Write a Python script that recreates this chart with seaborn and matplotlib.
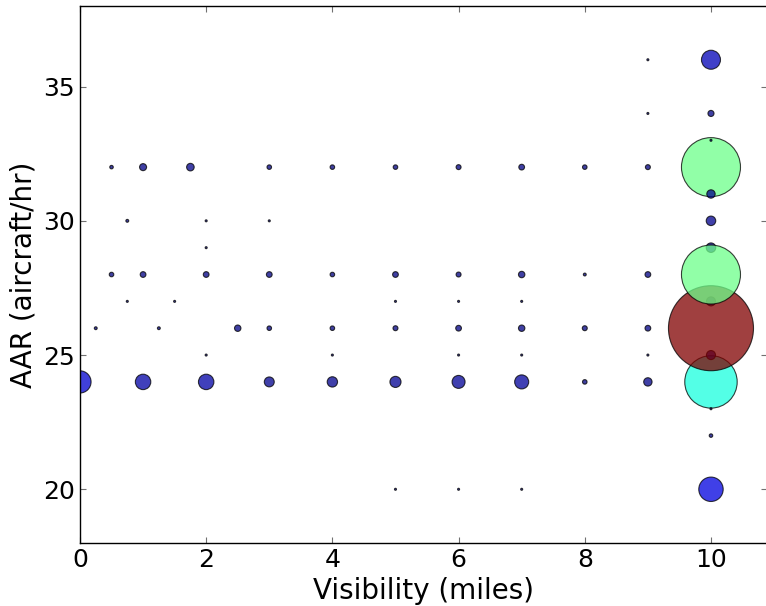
import numpy as np
import pandas as pd
import matplotlib
matplotlib.use("Agg")
import matplotlib.pyplot as plt
import seaborn as sns

# visibility (miles), AAR (aircraft/hr), number of hours observed
visibility = [0, 1, 2, 3, 4, 5, 6, 7, 8, 9,
              0.5, 1, 1.75, 3, 4, 5, 6, 7, 8, 9,
              0.75, 2, 3, 2,
              0.5, 1, 2, 3, 4, 5, 6, 7, 8, 9,
              0.75, 1.5, 5, 6, 7,
              0.25, 1.25, 2.5, 3, 4, 5, 6, 7, 8, 9,
              2, 4, 6, 7, 9,
              5, 6, 7,
              9, 9,
              10, 10, 10, 10, 10, 10, 10, 10, 10, 10, 10, 10, 10, 10, 10]
aar = [24, 24, 24, 24, 24, 24, 24, 24, 24, 24,
       32, 32, 32, 32, 32, 32, 32, 32, 32, 32,
       30, 30, 30, 29,
       28, 28, 28, 28, 28, 28, 28, 28, 28, 28,
       27, 27, 27, 27, 27,
       26, 26, 26, 26, 26, 26, 26, 26, 26, 26,
       25, 25, 25, 25, 25,
       20, 20, 20,
       36, 34,
       24, 25, 27, 26, 29, 28, 32, 31, 33, 30, 34, 36, 20, 22, 23]
hours = [120, 58, 58, 24, 26, 30, 41, 48, 5, 17,
         3, 12, 14, 5, 5, 5, 6, 8, 5, 6,
         2, 1, 1, 1,
         5, 8, 8, 8, 5, 8, 6, 10, 2, 8,
         1, 1, 1, 1, 1,
         2, 2, 10, 5, 5, 6, 8, 10, 6, 8,
         1, 1, 1, 1, 1,
         1, 1, 1,
         1, 1,
         669, 20, 20, 1760, 22, 848, 848, 17, 1, 22, 9, 88, 145, 3, 1]

df = pd.DataFrame({"vis": visibility, "aar": aar, "hours": hours})

sns.set_style("white")
plt.rcParams["text.color"] = "black"
plt.rcParams["axes.labelcolor"] = "black"
fig = plt.figure(figsize=(7.66, 6.06), dpi=100)
ax = fig.add_axes([0.1044, 0.104, 0.8975, 0.886])

hmax = max(hours)
sns.scatterplot(data=df, x="vis", y="aar", hue="hours", size="hours",
                palette=matplotlib.colormaps["jet"], hue_norm=(0, hmax),
                size_norm=(0, hmax), sizes=(0, 3748), alpha=0.75,
                edgecolor="black", linewidth=0.8, legend=False, ax=ax)

ax.set_xlim(0, 10.895)
ax.set_ylim(18, 38)
ax.set_xticks([0, 2, 4, 6, 8, 10])
ax.set_yticks([20, 25, 30, 35])
ax.tick_params(direction="in", length=4, width=0.8, labelsize=18,
               top=True, right=True, bottom=True, left=True,
               color="#707070", labelcolor="black")
for sp in ax.spines.values():
    sp.set_color("black")
    sp.set_linewidth(1.0)
ax.set_xlabel("Visibility (miles)", fontsize=20, color="black")
ax.set_ylabel("AAR (aircraft/hr)", fontsize=20, color="black")

fig.savefig("out.png", dpi=100)
